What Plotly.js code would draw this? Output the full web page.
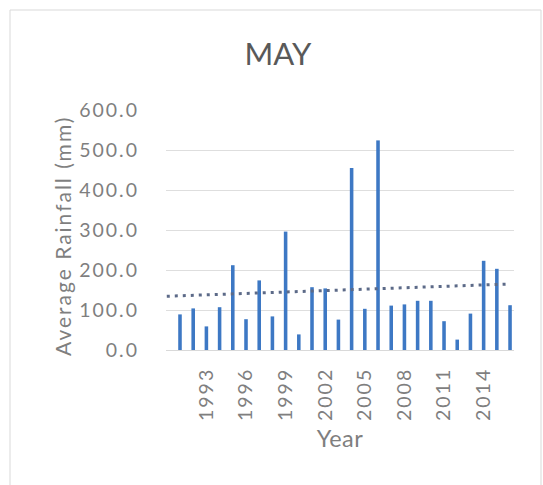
<!DOCTYPE html>
<html>
<head>
<meta charset="utf-8">
<script src="https://cdn.plot.ly/plotly-3.0.1.min.js"></script>
<style>
  html, body { margin: 0; padding: 0; background: #fff; }
  #chart { width: 543px; height: 485px; }
  /* open up the lettering a little for the axis text */
  #chart .ytick text, #chart .xtick text { letter-spacing: 2px; }
  #chart .annotation-text { letter-spacing: 2px; }
  #chart .g-xtitle text { letter-spacing: 0.5px; }
</style>
</head>
<body>
<div id="chart"></div>
<script>
// May average rainfall per year (mm)
const years = [1991, 1992, 1993, 1994, 1995, 1996, 1997, 1998, 1999, 2000,
               2001, 2002, 2003, 2004, 2005, 2006, 2007, 2008, 2009, 2010,
               2011, 2012, 2013, 2014, 2015, 2016];
const rainfall = [89, 104, 59, 107, 212, 77, 174, 84, 296, 39,
                  157, 154, 76, 455, 103, 524, 111, 114, 123, 123,
                  72, 26, 91, 223, 203, 112];
const yearTicks = [1993, 1996, 1999, 2002, 2005, 2008, 2011, 2014];
const rainTicks = [0, 100, 200, 300, 400, 500, 600];

// Least-squares linear trend over the series
function linearFit(xs, ys) {
  const n = xs.length;
  const mx = xs.reduce((a, b) => a + b, 0) / n;
  const my = ys.reduce((a, b) => a + b, 0) / n;
  let sxy = 0, sxx = 0;
  for (let i = 0; i < n; i++) {
    sxy += (xs[i] - mx) * (ys[i] - my);
    sxx += (xs[i] - mx) * (xs[i] - mx);
  }
  const slope = sxy / sxx;
  return x => my + slope * (x - mx);
}
const fit = linearFit(years, rainfall);
const trendX = [years[0] - 1, years[years.length - 1]];
const trendY = trendX.map(fit);

const font = 'Lato, "Open Sans", sans-serif';

const traces = [
  {
    type: 'bar',
    x: years,
    y: rainfall,
    width: 0.27,
    marker: { color: '#3d78c4' },
    hoverinfo: 'x+y'
  },
  {
    type: 'scatter',
    mode: 'lines',
    x: trendX,
    y: trendY,
    line: { color: '#5c6a88', width: 3, dash: '3px,5px' },
    hoverinfo: 'skip'
  }
];

// plot area: x 166..514 px, y 110..350 px
const L = 166, R = 514, T = 110, B = 350;

const layout = {
  width: 543,
  height: 485,
  margin: { l: L, r: 543 - R, t: T, b: 485 - B },
  paper_bgcolor: '#ffffff',
  plot_bgcolor: '#ffffff',
  showlegend: false,
  font: { family: font, color: '#7f7f7f' },
  title: {
    text: 'MAY',
    x: 278 / 543,
    xanchor: 'center',
    y: 1 - 54 / 485,
    yanchor: 'middle',
    font: { family: font, size: 31, color: '#595959' }
  },
  xaxis: {
    range: [1989.94, 2016.3],
    tickvals: yearTicks,
    ticktext: yearTicks.map(String),
    tickangle: -90,
    tickfont: { family: font, size: 19.5, color: '#7f7f7f' },
    ticklabelstandoff: 9,
    showgrid: false,
    showline: true,
    linecolor: '#d9d9d9',
    linewidth: 1,
    ticks: '',
    zeroline: false,
    title: {
      text: 'Year',
      font: { family: font, size: 23.5, color: '#7f7f7f' },
      standoff: 18
    }
  },
  yaxis: {
    range: [0, 600],
    tickvals: rainTicks,
    ticktext: rainTicks.map(v => v.toFixed(1)),
    tickfont: { family: font, size: 19.5, color: '#7f7f7f' },
    ticklabelstandoff: 26,
    showgrid: true,
    gridcolor: '#dedede',
    gridwidth: 1,
    zeroline: false,
    showline: false,
    ticks: ''
  },
  annotations: [
    {
      // vertical axis title
      text: 'Average Rainfall (mm)',
      xref: 'paper', yref: 'paper',
      x: (62 - L) / (R - L),
      y: (B - 236) / (B - T),
      xanchor: 'center', yanchor: 'middle',
      textangle: -90,
      showarrow: false,
      font: { family: font, size: 21, color: '#7f7f7f' }
    }
  ],
  shapes: [
    {
      type: 'rect',
      xref: 'paper', yref: 'paper',
      x0: (10 - L) / (R - L), x1: (541 - L) / (R - L),
      y0: (B - 500) / (B - T), y1: (B - 10) / (B - T),
      line: { color: '#d9d9d9', width: 1 },
      fillcolor: 'rgba(0,0,0,0)',
      layer: 'below'
    }
  ]
};

Plotly.newPlot('chart', traces, layout, { displayModeBar: false, staticPlot: true });
</script>
</body>
</html>
